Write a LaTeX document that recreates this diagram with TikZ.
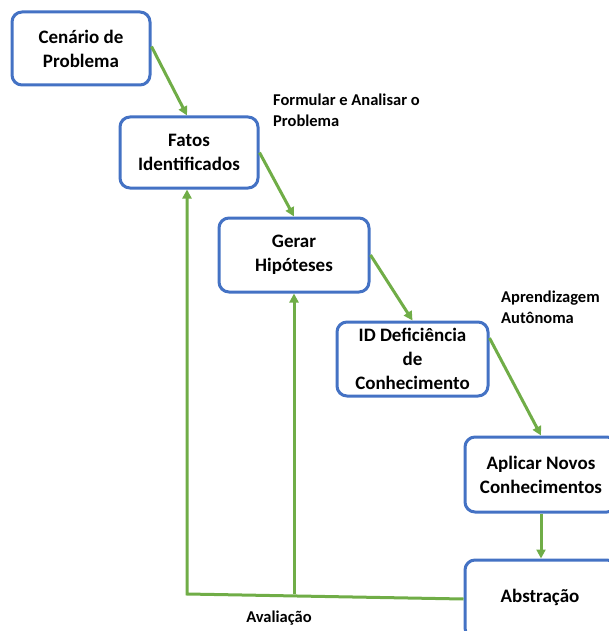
\documentclass[tikz,border=0pt]{standalone}
\usepackage{fontspec}
\setmainfont{Carlito}
\usetikzlibrary{arrows.meta}
\definecolor{boxblue}{HTML}{4472C4}
\definecolor{arrgreen}{HTML}{70AD47}
\begin{document}
\begin{tikzpicture}[x=1pt,y=-1pt,
  box/.style={draw=boxblue,line width=3pt,rounded corners=10pt,fill=white,
    font=\fontsize{19}{24}\selectfont\bfseries,align=center,inner sep=0pt},
  conn/.style={draw=arrgreen,line width=3pt},
  arr/.style={conn,-{Triangle[length=9pt,width=9pt]}},
  lbl/.style={font=\fontsize{16.5}{20.5}\selectfont\bfseries,align=left,anchor=north west,inner sep=0pt}]
\useasboundingbox (0,0) rectangle (609,631);
\node[box,minimum width=138pt,minimum height=73pt] (cen) at (81,48.5) {Cenário de\\Problema};
\node[box,minimum width=138pt,minimum height=71pt] (fat) at (189,152.5) {Fatos\\Identificados};
\node[box,minimum width=150pt,minimum height=74pt] (ger) at (294,255) {Gerar\\Hipóteses};
\node[box,minimum width=151pt,minimum height=74pt] (idd) at (412.5,359) {ID Deficiência\\de\\Conhecimento};
\node[box,minimum width=152pt,minimum height=75pt] (apl) at (541,474.5) {Aplicar Novos\\Conhecimentos};
\node[box,minimum width=152pt,minimum height=78pt,text depth=0pt] (abs) at (541,599) {};
\node[font=\fontsize{19}{24}\selectfont\bfseries] (abstxt) at (540,597) {Abstração};
\node[lbl] (l1) at (273,94) {Formular e Analisar o\\Problema};
\node[lbl] (l2) at (501,291) {Aprendizagem\\Autônoma};
\node[lbl,anchor=center] (l3) at (279,618) {Avaliação};
\coordinate (c1) at (187,594);
\coordinate (c2) at (294,594);
\draw[arr] ([yshift=2pt]cen.east) -- (fat.north -| 187,0);
\draw[arr] (fat.east) -- (ger.north);
\draw[arr] (ger.east) -- (idd.north);
\draw[arr] ([yshift=21pt]idd.east) -- (apl.north);
\draw[arr] (apl.south) -- (abs.north);
\draw[arr] (abs.west) -- (c1) -- (fat.south -| c1);
\draw[arr] (c2) -- (ger.south);
\end{tikzpicture}
\end{document}
